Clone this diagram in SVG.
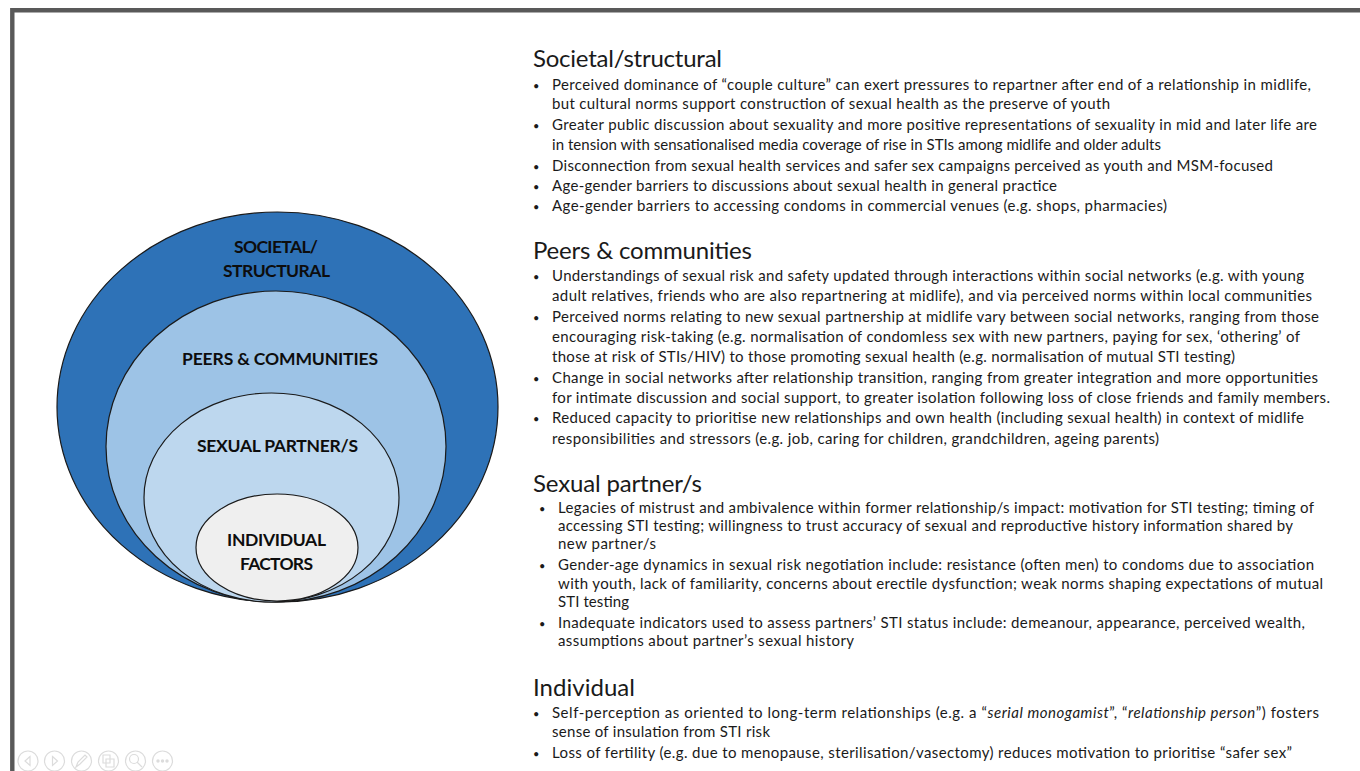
<svg xmlns="http://www.w3.org/2000/svg" width="1360" height="771" viewBox="0 0 1360 771">
<style>
text{font-family:"Lato","Open Sans","Liberation Sans",sans-serif;fill:#1a1a1a}
.h{font-size:24px}
.t{font-size:15px}
.b{font-size:11px}
.l{font-size:17.500px;font-weight:700;fill:#0d0d0d}
.e{stroke:#1a1a1a;stroke-width:1.2}
.c{fill:none;stroke:#dcdcdc;stroke-width:1.2}
.cf{fill:#dcdcdc}
</style>
<rect width="1360" height="771" fill="#fff"/>
<path d="M12.3 771V10.2H1360" fill="none" stroke="#595959" stroke-width="4.4"/>
<g id="societal-node"><ellipse class="e" cx="277.500" cy="407" rx="220.500" ry="195" fill="#2e72b7"/><text class="l" x="234" y="253" textLength="84">SOCIETAL/</text><text class="l" x="223" y="277" textLength="107">STRUCTURAL</text></g>
<g id="peers-node"><ellipse class="e" cx="276" cy="446.500" rx="170" ry="155.500" fill="#9dc3e6"/><text class="l" x="182" y="365" textLength="196">PEERS &amp; COMMUNITIES</text></g>
<g id="partner-node"><ellipse class="e" cx="271.500" cy="497.500" rx="127.500" ry="104.500" fill="#bdd7ee"/><text class="l" x="197" y="452" textLength="161">SEXUAL PARTNER/S</text></g>
<g id="individual-node"><ellipse class="e" cx="277" cy="547.500" rx="81" ry="53.500" fill="#efefef"/><text class="l" x="227" y="546" textLength="99">INDIVIDUAL</text><text class="l" x="240" y="570" textLength="73">FACTORS</text></g>
<g id="connectors"/>
<g id="societal-text">
<text class="h" x="533" y="67" textLength="189">Societal/structural</text>
<text class="b" x="533" y="90">•</text><text class="t" x="552" y="90" textLength="759">Perceived dominance of “couple culture” can exert pressures to repartner after end of a relationship in midlife,</text>
<text class="t" x="552" y="109" textLength="558">but cultural norms support construction of sexual health as the preserve of youth</text>
<text class="b" x="533" y="130">•</text><text class="t" x="552" y="130" textLength="765">Greater public discussion about sexuality and more positive representations of sexuality in mid and later life are</text>
<text class="t" x="552" y="150" textLength="609">in tension with sensationalised media coverage of rise in STIs among midlife and older adults</text>
<text class="b" x="533" y="171">•</text><text class="t" x="552" y="171" textLength="721">Disconnection from sexual health services and safer sex campaigns perceived as youth and MSM-focused</text>
<text class="b" x="533" y="191">•</text><text class="t" x="552" y="191" textLength="505">Age-gender barriers to discussions about sexual health in general practice</text>
<text class="b" x="533" y="211">•</text><text class="t" x="552" y="211" textLength="615">Age-gender barriers to accessing condoms in commercial venues (e.g. shops, pharmacies)</text>
</g>
<g id="peers-text">
<text class="h" x="533" y="259" textLength="219">Peers &amp; communities</text>
<text class="b" x="533" y="281">•</text><text class="t" x="552" y="281" textLength="752">Understandings of sexual risk and safety updated through interactions within social networks (e.g. with young</text>
<text class="t" x="552" y="301" textLength="760">adult relatives, friends who are also repartnering at midlife), and via perceived norms within local communities</text>
<text class="b" x="533" y="322">•</text><text class="t" x="552" y="322" textLength="767">Perceived norms relating to new sexual partnership at midlife vary between social networks, ranging from those</text>
<text class="t" x="552" y="342" textLength="748">encouraging risk-taking (e.g. normalisation of condomless sex with new partners, paying for sex, ‘othering’ of</text>
<text class="t" x="552" y="362" textLength="683">those at risk of STIs/HIV) to those promoting sexual health (e.g. normalisation of mutual STI testing)</text>
<text class="b" x="533" y="383">•</text><text class="t" x="552" y="383" textLength="766">Change in social networks after relationship transition, ranging from greater integration and more opportunities</text>
<text class="t" x="552" y="403" textLength="778">for intimate discussion and social support, to greater isolation following loss of close friends and family members.</text>
<text class="b" x="533" y="423">•</text><text class="t" x="552" y="423" textLength="752">Reduced capacity to prioritise new relationships and own health (including sexual health) in context of midlife</text>
<text class="t" x="552" y="444" textLength="607">responsibilities and stressors (e.g. job, caring for children, grandchildren, ageing parents)</text>
</g>
<g id="partner-text">
<text class="h" x="533" y="492" textLength="169">Sexual partner/s</text>
<text class="b" x="539" y="513">•</text><text class="t" x="558" y="513" textLength="756">Legacies of mistrust and ambivalence within former relationship/s impact: motivation for STI testing; timing of</text>
<text class="t" x="558" y="531" textLength="735">accessing STI testing; willingness to trust accuracy of sexual and reproductive history information shared by</text>
<text class="t" x="558" y="549" textLength="98">new partner/s</text>
<text class="b" x="539" y="570">•</text><text class="t" x="558" y="570" textLength="756">Gender-age dynamics in sexual risk negotiation include: resistance (often men) to condoms due to association</text>
<text class="t" x="558" y="589" textLength="765">with youth, lack of familiarity, concerns about erectile dysfunction; weak norms shaping expectations of mutual</text>
<text class="t" x="558" y="607" textLength="71">STI testing</text>
<text class="b" x="539" y="628">•</text><text class="t" x="558" y="628" textLength="747">Inadequate indicators used to assess partners’ STI status include: demeanour, appearance, perceived wealth,</text>
<text class="t" x="558" y="646" textLength="296">assumptions about partner’s sexual history</text>
</g>
<g id="individual-text">
<text class="h" x="533" y="696" textLength="102">Individual</text>
<text class="b" x="533" y="718">•</text><text class="t" x="552" y="718" textLength="767">Self-perception as oriented to long-term relationships (e.g. a “<tspan font-style="italic">serial monogamist</tspan>”, “<tspan font-style="italic">relationship person</tspan>”) fosters</text>
<text class="t" x="552" y="737" textLength="218">sense of insulation from STI risk</text>
<text class="b" x="533" y="758">•</text><text class="t" x="552" y="758" textLength="740">Loss of fertility (e.g. due to menopause, sterilisation/vasectomy) reduces motivation to prioritise “safer sex”</text>
</g>
<g id="slide-controls">
<circle class="c" cx="28" cy="761" r="10"/><path class="c" d="M30 756.500l-5 4.500 5 4.500z"/>
<circle class="c" cx="54.500" cy="761" r="10"/><path class="c" d="M52.500 756.500l5 4.500-5 4.500z"/>
<circle class="c" cx="81.500" cy="761" r="10"/><path class="c" d="M76 767l2-5 7-7 2 2-7 7z"/>
<circle class="c" cx="108.500" cy="761" r="10"/><path class="c" d="M103 755h7v4h4v8h-8v-4h-3zM106 759h4v4h-4z"/>
<circle class="c" cx="135.500" cy="761" r="10"/><circle class="c" cx="134" cy="759" r="4.500" stroke-width="2"/><path class="c" d="M137 762l5 5" stroke-width="2.500"/>
<circle class="c" cx="162.500" cy="761" r="10"/><circle class="cf" cx="158" cy="761" r="1.700"/><circle class="cf" cx="162.500" cy="761" r="1.700"/><circle class="cf" cx="167" cy="761" r="1.700"/>
</g>
</svg>
